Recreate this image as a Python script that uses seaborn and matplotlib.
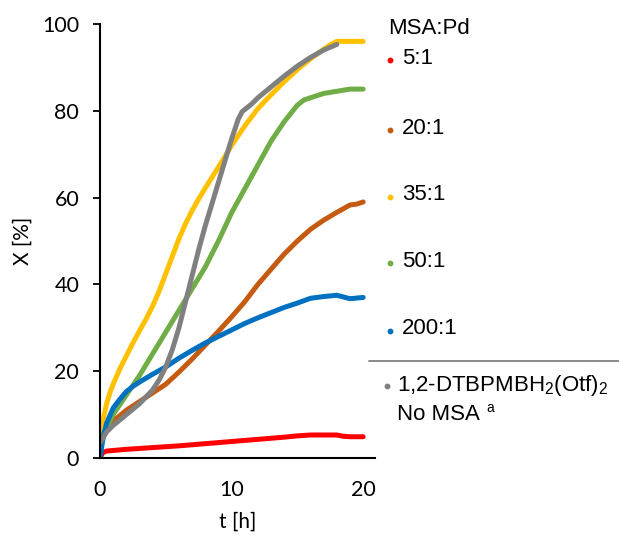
import numpy as np
import pandas as pd
import matplotlib
matplotlib.use("Agg")
import matplotlib.pyplot as plt
from matplotlib.lines import Line2D
import seaborn as sns

# conversion X [%] vs time t [h]
t_red = [0, 0.2, 0.5, 2, 4, 6, 8, 10, 12, 14, 15, 16, 17, 18, 18.5, 19, 20]
x_red = [0, 1.2, 1.6, 2.0, 2.4, 2.8, 3.3, 3.8, 4.3, 4.8, 5.1, 5.3, 5.3, 5.3, 5.0, 4.9, 4.9]

t_orange = [0, 0.5, 1, 2, 3, 4, 5, 6, 7, 8, 9, 10, 11, 12, 13, 14, 15, 16, 17, 18, 19, 19.5, 20]
x_orange = [4.5, 6.5, 8.5, 11, 13, 15, 17, 19.8, 22.8, 26, 29.2, 32.5, 36, 40, 43.5, 47, 50,
            52.7, 54.8, 56.6, 58.3, 58.5, 59]

t_yellow = [0, 0.25, 0.5, 0.75, 1, 1.5, 2, 2.5, 3, 3.5, 4, 4.5, 5, 5.5, 6, 6.5, 7, 7.5, 8, 9,
            10, 11, 12, 13, 14, 15, 16, 17, 17.5, 18, 19, 20]
x_yellow = [5, 9, 12.5, 15, 17, 20.5, 23.5, 26.5, 29.3, 32, 35, 38.5, 42.5, 46.5, 50.5, 54,
            57, 59.7, 62.2, 67, 72, 76.5, 80.5, 83.7, 86.7, 89.5, 92, 94.2, 95.2, 96, 96, 96]

t_green = [0, 0.5, 1, 2, 3, 4, 5, 6, 7, 8, 9, 10, 11, 12, 13, 14, 15, 15.5, 16, 17, 18, 19, 20]
x_green = [4.5, 7, 10, 14.5, 19, 24, 29, 34, 39, 44, 50, 56.5, 62, 67.5, 73, 77.5, 81.3, 82.5,
           83, 84, 84.5, 85, 85]

t_blue = [0, 0.2, 0.5, 1, 1.5, 2, 2.5, 3, 4, 5, 6, 7, 8, 9, 10, 11, 12, 13, 14, 15, 16, 17,
          18, 19, 20]
x_blue = [0, 4, 8, 11.5, 13.5, 15.3, 16.5, 17.5, 19.3, 21, 23, 24.8, 26.5, 28, 29.5, 31, 32.3,
          33.5, 34.7, 35.7, 36.8, 37.2, 37.5, 36.7, 37]

t_gray = [0, 0.5, 1, 2, 3, 4, 4.5, 5, 5.5, 6, 6.5, 7, 7.5, 8, 8.5, 9, 9.5, 10, 10.5, 10.8,
          11.5, 12, 13, 14, 15, 16, 17, 18]
x_gray = [3.5, 6, 7.5, 10, 12.5, 15.7, 18, 21, 25, 30, 36, 42, 48, 53.5, 58.5, 63.5, 68.5,
          73.5, 78, 79.8, 81.5, 83, 85.5, 88, 90.3, 92.3, 94, 95.3]

series = ["5:1", "20:1", "35:1", "50:1", "200:1", "1,2-DTBPMBH2(Otf)2"]
colors = ["#FF0000", "#C55A11", "#FFC000", "#70AD47", "#0070C0", "#808080"]
all_t = [t_red, t_orange, t_yellow, t_green, t_blue, t_gray]
all_x = [x_red, x_orange, x_yellow, x_green, x_blue, x_gray]

frames = []
for name, tt, xx in zip(series, all_t, all_x):
    frames.append(pd.DataFrame({"t": tt, "X": xx, "series": name}))
df = pd.concat(frames, ignore_index=True)

sns.set_style("ticks")
plt.rcParams["font.family"] = ["Lato", "DejaVu Sans"]
plt.rcParams["mathtext.fontset"] = "custom"
plt.rcParams["mathtext.rm"] = "Liberation Sans"
for key in ["text.color", "axes.labelcolor", "xtick.color", "ytick.color", "axes.edgecolor"]:
    plt.rcParams[key] = "black"

fig = plt.figure(figsize=(6.19, 5.35), dpi=100)
ax = fig.add_axes([100 / 619, 1 - 458 / 535, 275 / 619, 434 / 535])

sns.lineplot(data=df, x="t", y="X", hue="series", hue_order=series,
             palette=dict(zip(series, colors)), linewidth=3.6, legend=False,
             sort=False, estimator=None, ax=ax)

ax.set_xlim(0, 20.9)
ax.set_ylim(0, 100)
ax.set_xticks([0, 10, 20])
ax.set_yticks([0, 20, 40, 60, 80, 100])
ax.tick_params(axis="x", length=0, pad=16, labelsize=15.5)
ax.tick_params(axis="y", length=5, width=1.3, pad=10, labelsize=15.5)
ax.set_xlabel("t [h]", fontsize=15, labelpad=8)
ax.set_ylabel("X [%]", fontsize=15, labelpad=7)
for s in ["left", "bottom"]:
    ax.spines[s].set_linewidth(1.5)
sns.despine(ax=ax)

# legend drawn by hand, Excel-style
leg_font = ["Liberation Sans", "DejaVu Sans"]
W, H = 619, 535
fig.text(388 / W, 1 - 28 / H, "MSA:Pd", fontsize=16, family=leg_font, va="center")
entry_y = [58, 128, 195, 261, 329]
for name, c, y in zip(series[:5], colors[:5], entry_y):
    fig.add_artist(Line2D([390 / W], [1 - (y + 2) / H], marker="o", markersize=3.2,
                          color=c, transform=fig.transFigure))
    fig.text(402 / W, 1 - y / H, name, fontsize=16, family=leg_font, va="center")

fig.add_artist(Line2D([369 / W, 1], [1 - 361 / H] * 2, color="#808080", linewidth=1.3,
                      transform=fig.transFigure))
fig.add_artist(Line2D([387 / W], [1 - 386 / H], marker="o", markersize=3.2,
                      color=colors[5], transform=fig.transFigure))
fig.text(397 / W, 1 - 386 / H, r"1,2-DTBPMBH$_2$(Otf)$_2$", fontsize=16,
         family=leg_font, va="center")
fig.text(397 / W, 1 - 414 / H, "No MSA", fontsize=16, family=leg_font, va="center")
fig.text(486 / W, 1 - 408 / H, "a", fontsize=10, family=leg_font, va="center")

fig.savefig("out.png", dpi=100)
